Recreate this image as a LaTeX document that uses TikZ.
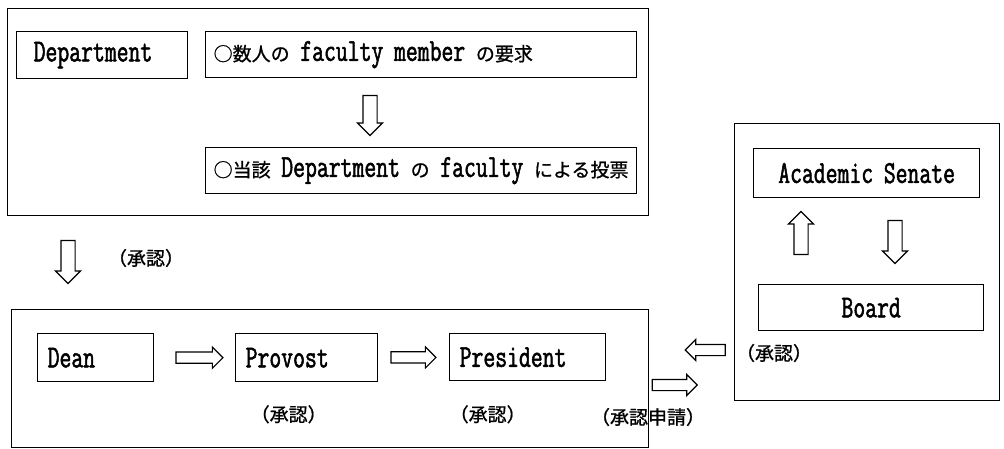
\documentclass[tikz,border=0pt]{standalone}
\usepackage{fontspec}
\setmainfont{Latin Modern Mono}[FakeStretch=0.72, FakeBold=1.6]
\newfontfamily\cjk{Noto Sans CJK JP}[FakeBold=0.9]
\usetikzlibrary{shapes.arrows,calc}
\newcommand{\jp}[1]{{\cjk\fontsize{19}{21}\selectfont #1}}
\tikzset{
  frame/.style={draw, line width=1.3pt, anchor=north west, inner sep=0pt},
  box/.style={draw, line width=1.3pt, anchor=north west, inner ysep=0pt,
    font=\fontsize{32}{33}\selectfont},
  harrow/.style={single arrow, draw, line width=1.2pt, minimum height=#1,
    inner xsep=0pt, inner ysep=5pt, single arrow head extend=5pt,
    single arrow tip angle=90, outer sep=0pt},
  varrow/.style={single arrow, draw, line width=1.2pt, minimum height=#1,
    inner xsep=0pt, inner ysep=6.5pt, single arrow head extend=5.5pt,
    single arrow tip angle=90, outer sep=0pt},
  lbl/.style={inner sep=0pt, font=\cjk\fontsize{19}{21}\selectfont}
}
\begin{document}
\begin{tikzpicture}[x=1pt,y=-1pt]
\useasboundingbox (0,0) rectangle (1004,448);
% outer frames
\node[frame, minimum width=641, minimum height=207] (topframe) at (7,8) {};
\node[frame, minimum width=637, minimum height=138] (botframe) at (11,309) {};
\node[frame, minimum width=265, minimum height=277] (rightframe) at (734,123) {};
% top boxes
\node[box, minimum height=47, text width=137, inner xsep=17, align=left] (dept) at (16,31) {Department};
\node[box, minimum height=46, text width=415, inner xsep=8, align=left] (req) at (205,31)
  {\jp{○数人の} faculty member \jp{の要求}};
\node[box, minimum height=46, text width=415, inner xsep=8, align=left] (vote) at (205,147)
  {\jp{○当該} Department \jp{の} faculty \jp{による投票}};
% bottom boxes
\node[box, minimum height=48, text width=96, inner xsep=10, align=left] (dean) at (37,333) {Dean};
\node[box, minimum height=48, text width=122, inner xsep=10, align=left] (prov) at (235,333) {Provost};
\node[box, minimum height=47, text width=136, inner xsep=10, align=left] (pres) at (449,333) {President};
% right boxes
\node[box, minimum height=49, text width=206, inner xsep=10, align=center] (senate) at (753,148) {Academic Senate};
\node[box, minimum height=46, text width=205, inner xsep=10, align=center] (board) at (758,284) {Board};
% block arrows
\node[varrow=40, rotate=-90] (a1) at (370,112) {};
\node[varrow=43, rotate=-90] (a2) at (68,258.5) {};
\node[harrow=47] (a3) at ($(dean.east)!0.5!(prov.west)+(2,0)$) {};
\node[harrow=45] (a4) at ($(prov.east)!0.5!(pres.west)-(3,0)$) {};
\node[harrow=45] (a5) at (672,385) {};
\node[harrow=40, rotate=180] (a6) at (708,350) {};
\node[varrow=43, rotate=90] (a7) at (801,236.5) {};
\node[varrow=43, rotate=-90] (a8) at (895,238.5) {};
% labels
\node[lbl] (l1) at (146,258) {（承認）};
\node[lbl] (l2) at ($(prov.south)+(-18,32)$) {（承認）};
\node[lbl] (l3) at ($(pres.south)+(-40,33)$) {（承認）};
\node[lbl] (l4) at (648,417) {（承認申請）};
\node[lbl] (l5) at (774,353) {（承認）};
\end{tikzpicture}
\end{document}
